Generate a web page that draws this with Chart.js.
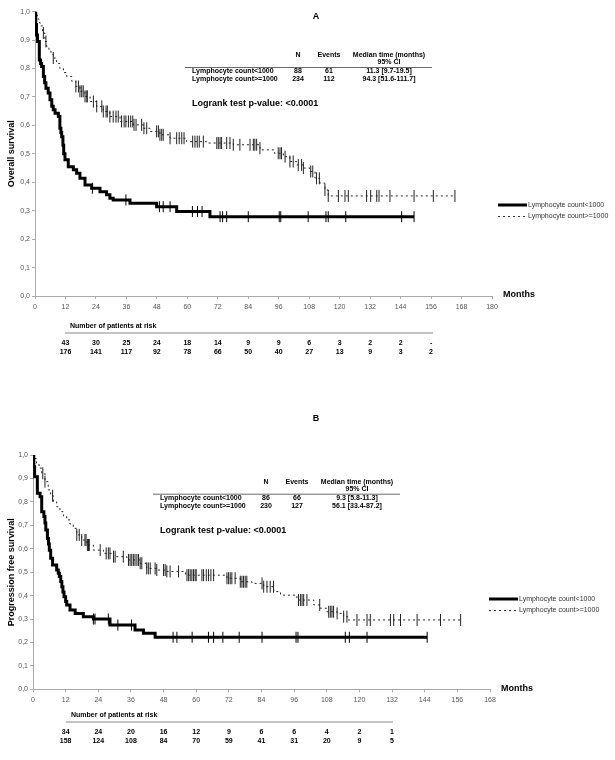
<!DOCTYPE html>
<html>
<head>
<meta charset="utf-8">
<script src="https://cdn.jsdelivr.net/npm/chart.js@4.4.1/dist/chart.umd.min.js"></script>
<style>
  body { margin: 0; background: #fff; }
  .panel { position: absolute; left: 0; width: 615px; height: 380px; }
</style>
</head>
<body>
<div class="panel" style="top:0"><canvas id="chartA" width="615" height="380"></canvas></div>
<div class="panel" style="top:380px"><canvas id="chartB" width="615" height="380"></canvas></div>
<script>
// --- Panel A: overall survival ---
const tA_low = [0, 0.3, 0.6, 1.0, 1.7, 2.2, 2.6, 3.3, 3.8, 4.3, 5.2, 5.9, 6.6, 7.2, 7.9, 9.2, 9.8, 10.2, 10.5, 11.0, 11.3, 11.8, 13.1, 15.1, 16.4, 17.7, 19.7, 22.3, 25.6, 28.2, 29.5, 30.8, 37.4, 47.9, 55.8, 68.9, 149.3];
const sA_low = [1.0, 0.955, 0.918, 0.895, 0.83, 0.818, 0.807, 0.772, 0.75, 0.731, 0.714, 0.69, 0.667, 0.655, 0.643, 0.631, 0.59, 0.575, 0.56, 0.53, 0.50, 0.479, 0.455, 0.444, 0.432, 0.414, 0.39, 0.379, 0.367, 0.356, 0.344, 0.338, 0.326, 0.314, 0.297, 0.279, 0.279];
const tA_high = [0, 0.5, 1, 1.5, 2, 3, 3.9, 4.6, 5.5, 6.3, 7.2, 8.5, 9.8, 11.2, 12.5, 14.5, 16.1, 17.7, 19.7, 21.7, 24.3, 26.9, 29.5, 33.5, 38.7, 42.7, 45.3, 49.2, 53.2, 59.7, 67.6, 78.1, 88.6, 89.3, 94.3, 97.8, 100.4, 103, 105.7, 108.3, 110.3, 112.2, 114.2, 115.5, 165.4];
const sA_high = [1, 0.987, 0.975, 0.962, 0.95, 0.925, 0.895, 0.878, 0.862, 0.85, 0.837, 0.818, 0.80, 0.786, 0.772, 0.755, 0.737, 0.72, 0.702, 0.684, 0.667, 0.649, 0.631, 0.614, 0.602, 0.59, 0.579, 0.567, 0.555, 0.543, 0.538, 0.532, 0.52, 0.514, 0.502, 0.49, 0.473, 0.461, 0.45, 0.438, 0.414, 0.397, 0.373, 0.352, 0.352];
const cA_low = [22.6, 35.8, 49, 50.5, 53.2, 62, 64, 65.8, 72.9, 73.9, 75.5, 84, 96.2, 96.8, 107.6, 114.6, 115.5, 122.4, 144.4, 149.3];
const cA_high = [3.3, 4.3, 7.2, 16.1, 17.1, 17.7, 18.4, 19.0, 19.7, 20.4, 20.6, 23.0, 24.3, 26.3, 26.9, 28.0, 28.5, 29.5, 30.8, 31.9, 32.8, 34.1, 35.1, 35.8, 36.8, 37.7, 38.5, 39.0, 39.8, 42.0, 42.9, 44.0, 47.9, 48.6, 49.2, 49.9, 50.5, 53.2, 55.8, 56.8, 57.8, 58.7, 62.1, 63.0, 63.9, 64.7, 66.3, 71.6, 72.2, 72.9, 73.5, 75.5, 76.8, 78.1, 80.7, 84.7, 86.0, 86.6, 87.3, 88.6, 95.8, 96.5, 97.1, 98.5, 100.4, 101.7, 103.7, 105.0, 105.7, 108.6, 109.4, 110.9, 112.0, 114.2, 115.5, 119.5, 122.1, 123.4, 130.6, 132.2, 134.6, 135.5, 139.8, 149.3, 156.9, 165.4];
const riskMonthsA = [12, 24, 36, 48, 60, 72, 84, 96, 108, 120, 132, 144, 156];
const riskLowA = ['43', '30', '25', '24', '18', '14', '9', '9', '6', '3', '2', '2', '-'];
const riskHighA = ['176', '141', '117', '92', '78', '66', '50', '40', '27', '13', '9', '3', '2'];
const statsA = [['Lymphocyte count<1000', '88', '61', '11.3 [9.7-19.5]'], ['Lymphocyte count>=1000', '234', '112', '94.3 [51.6-111.7]']];

// --- Panel B: progression free survival ---
const tB_low = [0, 0.3, 0.6, 1.6, 2.6, 3.2, 4.0, 4.4, 4.7, 5.3, 5.7, 6.0, 6.5, 7.2, 8.7, 9.3, 9.7, 10.2, 10.6, 11.0, 11.4, 12.0, 12.4, 13.6, 15.5, 18.5, 22.2, 28.3, 37.5, 40.6, 44.9, 144.9];
const sB_low = [1, 0.95, 0.907, 0.837, 0.822, 0.758, 0.737, 0.71, 0.68, 0.644, 0.62, 0.594, 0.559, 0.53, 0.509, 0.495, 0.481, 0.46, 0.438, 0.415, 0.395, 0.375, 0.36, 0.338, 0.324, 0.31, 0.30, 0.274, 0.253, 0.239, 0.222, 0.222];
const tB_high = [0, 0.5, 1.3, 2.2, 3.2, 4.4, 5.6, 6.5, 7.5, 8.7, 9.9, 11.2, 12.4, 13.6, 14.8, 16.1, 17.9, 19.8, 22.2, 25.9, 29.6, 34.5, 39.4, 41.8, 45.5, 49.2, 56.1, 71.3, 76.2, 80.5, 84.8, 88.5, 91, 97, 103.2, 105.6, 108.1, 111.8, 114.2, 115.7, 157.2];
const sB_high = [1, 0.985, 0.965, 0.944, 0.922, 0.886, 0.851, 0.826, 0.80, 0.779, 0.758, 0.74, 0.723, 0.705, 0.687, 0.659, 0.637, 0.616, 0.594, 0.58, 0.566, 0.552, 0.538, 0.516, 0.509, 0.503, 0.487, 0.474, 0.459, 0.452, 0.438, 0.417, 0.402, 0.381, 0.36, 0.346, 0.331, 0.324, 0.31, 0.296, 0.296];
const cB_low = [22.2, 22.8, 27.7, 31.2, 36.2, 51.5, 52.9, 58.5, 64.5, 66.4, 69.8, 75.8, 84.2, 96.7, 97.4, 114.8, 116.3, 122.8, 144.9];
const cB_high = [3.6, 4.4, 7.2, 16.1, 17.0, 17.9, 19.1, 19.5, 20.0, 20.4, 20.7, 24.7, 26.9, 27.7, 28.3, 29.6, 30.2, 33.2, 35.1, 35.7, 36.3, 36.9, 37.5, 38.2, 38.8, 39.4, 40.0, 41.8, 42.4, 43.1, 44.9, 45.5, 48.0, 48.6, 49.2, 50.4, 53.5, 56.6, 57.2, 57.8, 58.4, 59.0, 59.6, 60.0, 62.1, 62.7, 63.7, 64.5, 65.4, 66.4, 71.3, 71.9, 72.5, 73.1, 74.3, 76.2, 76.8, 77.4, 78.0, 78.6, 84.2, 84.8, 86.0, 87.2, 88.4, 97.6, 98.3, 98.9, 99.5, 100.7, 105.4, 108.7, 109.3, 109.9, 110.5, 111.8, 114.2, 115.4, 119.1, 122.8, 124.0, 131.4, 132.6, 135.1, 141.2, 149.8, 157.2];
const riskMonthsB = [12, 24, 36, 48, 60, 72, 84, 96, 108, 120, 132];
const riskLowB = ['34', '24', '20', '16', '12', '9', '6', '6', '4', '2', '1'];
const riskHighB = ['158', '124', '108', '84', '70', '59', '41', '31', '20', '9', '5'];
const statsB = [['Lymphocyte count<1000', '86', '66', '9.3 [5.8-11.3]'], ['Lymphocyte count>=1000', '230', '127', '56.1 [33.4-87.2]']];

const legendLabels = ['Lymphocyte count<1000', 'Lymphocyte count>=1000'];
const FONT = 'Arial, "Liberation Sans", sans-serif';

function levelAt(t, times, surv) {
    let s = surv[0];
    for (let i = 0; i < times.length; i++) {
        if (times[i] <= t) s = surv[i];
    }
    return s;
}

function text(ctx, str, x, y, size, bold, align, color) {
    ctx.font = (bold ? 'bold ' : '') + size + 'px ' + FONT;
    ctx.textAlign = align || 'left';
    ctx.textBaseline = 'middle';
    ctx.fillStyle = color || '#000';
    ctx.fillText(str, x, y);
}

function hline(ctx, x1, x2, y, color, width) {
    ctx.beginPath();
    ctx.strokeStyle = color;
    ctx.lineWidth = width;
    ctx.moveTo(x1, y);
    ctx.lineTo(x2, y);
    ctx.stroke();
}

// textes autour du graphique: titre, tableau, logrank, légende, patients à risque
const overlay = {
    id: 'overlay',
    afterDraw(chart, args, o) {
        const ctx = chart.ctx;
        const xs = chart.scales.x;
        ctx.save();
        text(ctx, o.letter, 316, o.letterY, 9, true, 'center');

        // tableau des médianes
        const tx = o.tableX, h = o.tableY;
        text(ctx, 'N', tx + 106, h, 7, true, 'center');
        text(ctx, 'Events', tx + 137, h, 7, true, 'center');
        text(ctx, 'Median time (months)', tx + 197, h, 7, true, 'center');
        text(ctx, '95% CI', tx + 197, h + 7, 7, true, 'center');
        hline(ctx, tx - 7, tx + 240, h + 12.5, '#444', 0.8);
        o.stats.forEach((row, i) => {
            const y = h + 16.5 + i * 8;
            text(ctx, row[0], tx, y, 7, true, 'left');
            text(ctx, row[1], tx + 106, y, 7, true, 'center');
            text(ctx, row[2], tx + 137, y, 7, true, 'center');
            text(ctx, row[3], tx + 197, y, 7, true, 'center');
        });
        text(ctx, 'Logrank test p-value: <0.0001', tx, h + 49, 9, true, 'left');

        // légende
        ctx.beginPath();
        ctx.strokeStyle = '#000';
        ctx.lineWidth = 3;
        ctx.moveTo(o.legX, o.legY);
        ctx.lineTo(o.legX + 29, o.legY);
        ctx.stroke();
        ctx.beginPath();
        ctx.setLineDash([2, 3]);
        ctx.lineWidth = 1;
        ctx.strokeStyle = '#333';
        ctx.moveTo(o.legX, o.legY + 11.5);
        ctx.lineTo(o.legX + 29, o.legY + 11.5);
        ctx.stroke();
        ctx.setLineDash([]);
        text(ctx, legendLabels[0], o.legX + 30, o.legY, 7, false, 'left', '#333');
        text(ctx, legendLabels[1], o.legX + 30, o.legY + 11.5, 7, false, 'left', '#333');

        text(ctx, 'Months', xs.right + 11, xs.top - 1, 9, true, 'left');

        // patients à risque
        text(ctx, 'Number of patients at risk', o.riskX, o.riskY, 7, true, 'left');
        hline(ctx, o.riskX - 5, o.riskLineEnd, o.riskY + 7, '#888', 1);
        o.riskMonths.forEach((m, i) => {
            const px = xs.getPixelForValue(m);
            text(ctx, o.riskLow[i], px, o.riskY + 17, 7, true, 'center');
            text(ctx, o.riskHigh[i], px, o.riskY + 26, 7, true, 'center');
        });
        ctx.restore();
    }
};

function kmPanel(canvasId, p) {
    const steps = (t, s) => t.map((v, i) => ({ x: v, y: s[i] }));
    const marks = (c, t, s) => c.map(v => ({ x: v, y: levelAt(v, t, s) }));
    return new Chart(document.getElementById(canvasId), {
        type: 'line',
        data: {
            datasets: [
                { data: steps(p.tLow, p.sLow), stepped: 'before', borderColor: '#000', borderWidth: 3, pointRadius: 0 },
                { data: steps(p.tHigh, p.sHigh), stepped: 'before', borderColor: '#222', borderWidth: 1, borderDash: [2, 3], pointRadius: 0 },
                { data: marks(p.cLow, p.tLow, p.sLow), showLine: false, pointStyle: 'line', rotation: 90, pointRadius: 5.5, pointBorderWidth: 1, pointBorderColor: '#000' },
                { data: marks(p.cHigh, p.tHigh, p.sHigh), showLine: false, pointStyle: 'line', rotation: 90, pointRadius: 6, pointBorderWidth: 1, pointBorderColor: '#222' }
            ]
        },
        options: {
            responsive: false,
            animation: false,
            devicePixelRatio: 1,
            layout: { padding: { top: p.top, right: 615 - p.right, left: 0, bottom: 0 } },
            plugins: {
                legend: { display: false },
                tooltip: { enabled: false },
                overlay: p.overlay
            },
            scales: {
                x: {
                    type: 'linear',
                    min: 0,
                    max: p.xMax,
                    afterFit: s => { s.height = 380 - p.bottom; },
                    border: { color: '#aaa', width: 1 },
                    grid: { drawOnChartArea: false, color: '#aaa', tickLength: 3 },
                    ticks: { stepSize: 12, color: '#555', padding: 4, font: { size: 7, family: FONT } }
                },
                y: {
                    min: 0,
                    max: 1,
                    afterFit: s => { s.width = p.left; },
                    border: { color: '#aaa', width: 1 },
                    grid: { drawOnChartArea: false, color: '#aaa', tickLength: 3 },
                    ticks: {
                        stepSize: 0.1,
                        color: '#555',
                        padding: 2,
                        font: { size: 7, family: FONT },
                        callback: v => v.toFixed(1).replace('.', ',')
                    },
                    title: {
                        display: true,
                        text: p.yTitle,
                        color: '#000',
                        padding: { top: 6, bottom: 0 },
                        font: { size: 9, weight: 'bold', family: FONT }
                    }
                }
            }
        },
        plugins: [overlay]
    });
}

kmPanel('chartA', {
    tLow: tA_low, sLow: sA_low, tHigh: tA_high, sHigh: sA_high, cLow: cA_low, cHigh: cA_high,
    xMax: 180, left: 35, right: 492, top: 11.7, bottom: 296, yTitle: 'Overall survival',
    overlay: {
        letter: 'A', letterY: 17, tableX: 192, tableY: 55, stats: statsA,
        legX: 498, legY: 205,
        riskX: 70, riskY: 326, riskLineEnd: 433,
        riskMonths: riskMonthsA, riskLow: riskLowA, riskHigh: riskHighA
    }
});

kmPanel('chartB', {
    tLow: tB_low, sLow: sB_low, tHigh: tB_high, sHigh: sB_high, cLow: cB_low, cHigh: cB_high,
    xMax: 168, left: 33, right: 490, top: 75, bottom: 309.3, yTitle: 'Progression free survival',
    overlay: {
        letter: 'B', letterY: 39, tableX: 160, tableY: 101.7, stats: statsB,
        legX: 489, legY: 219,
        riskX: 71, riskY: 335, riskLineEnd: 393,
        riskMonths: riskMonthsB, riskLow: riskLowB, riskHigh: riskHighB
    }
});
</script>
</body>
</html>
